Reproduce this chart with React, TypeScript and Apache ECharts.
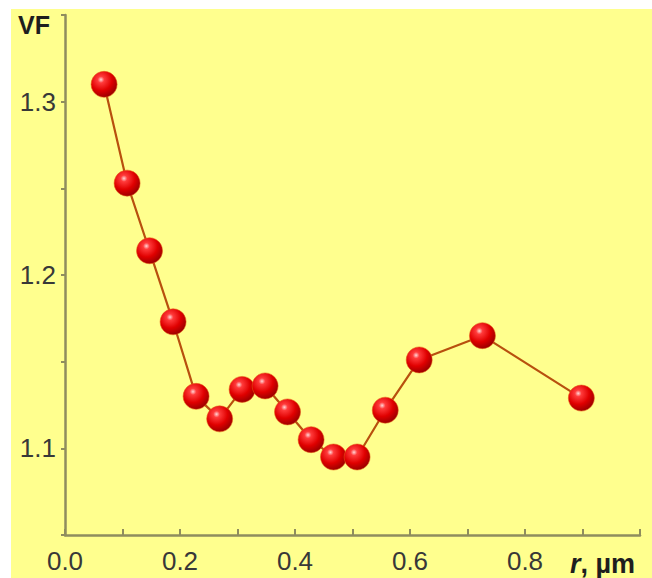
import React, { useEffect, useRef } from "react";
import * as echarts from "echarts";

// Particle radius r (µm) versus VF
const radius = [0.068, 0.108, 0.147, 0.188, 0.228, 0.269, 0.308, 0.348, 0.387, 0.428, 0.467, 0.508, 0.557, 0.616, 0.726, 0.898];
const vf = [1.31, 1.253, 1.214, 1.173, 1.13, 1.117, 1.134, 1.136, 1.121, 1.105, 1.095, 1.095, 1.122, 1.151, 1.165, 1.129];

const xTickLabels = ["0.0", "0.2", "0.4", "0.6", "0.8"];
const yTickLabels = ["1.1", "1.2", "1.3"];

export default function App() {
  const ref = useRef<HTMLDivElement>(null);

  useEffect(() => {
    if (!ref.current) return;
    const chart = echarts.init(ref.current, undefined, { renderer: "svg" });

    const axisColor = "#8f8d5e";
    const textColor = "#383838";
    const font = "'Liberation Sans', Arial, sans-serif";

    const ball = new echarts.graphic.RadialGradient(0.38, 0.32, 0.7, [
      { offset: 0, color: "#ffd6d6" },
      { offset: 0.18, color: "#ff3b3b" },
      { offset: 0.6, color: "#e00000" },
      { offset: 1, color: "#9a0000" },
    ]);

    chart.setOption({
      animation: false,
      backgroundColor: "#ffff8e",
      grid: { left: 54, right: 12, top: 6, bottom: 43 },
      xAxis: {
        type: "value",
        min: 0,
        max: 1,
        interval: 0.1,
        axisLine: { lineStyle: { color: axisColor, width: 2.5 } },
        axisTick: { inside: true, length: 6, lineStyle: { color: axisColor, width: 2 } },
        splitLine: { show: false },
        axisLabel: {
          margin: 13,
          fontSize: 26,
          fontFamily: font,
          color: textColor,
          formatter: (v: number) => {
            const s = v.toFixed(1);
            return xTickLabels.includes(s) ? s : "";
          },
        },
      },
      yAxis: {
        type: "value",
        min: 1.05,
        max: 1.35,
        interval: 0.05,
        axisLine: { show: true, lineStyle: { color: axisColor, width: 2.5 } },
        axisTick: { show: true, length: 4, lineStyle: { color: axisColor, width: 2 } },
        splitLine: { show: false },
        axisLabel: {
          margin: 9,
          fontSize: 26,
          fontFamily: font,
          color: textColor,
          formatter: (v: number) => {
            const s = v.toFixed(2);
            const t = v.toFixed(1);
            return s.endsWith("0") && yTickLabels.includes(t) ? t : "";
          },
        },
      },
      graphic: [
        {
          type: "text",
          left: 7,
          top: 3,
          style: {
            text: "VF",
            font: `bold 25px ${font}`,
            fill: "#1e1e1e",
          },
        },
        {
          type: "text",
          left: 559,
          top: 541,
          style: {
            text: "{i|r}{n|, µm}",
            rich: {
              i: { font: `italic bold 27px ${font}`, fill: "#1e1e1e" },
              n: { font: `bold 27px ${font}`, fill: "#1e1e1e" },
            },
          },
        },
      ],
      series: [
        {
          type: "line",
          data: radius.map((r, i) => [r, vf[i]]),
          symbol: "circle",
          symbolSize: 26,
          lineStyle: { color: "#b8500e", width: 2.2 },
          itemStyle: {
            color: ball,
            borderColor: "rgba(230,90,20,0.55)",
            borderWidth: 1,
          },
        },
      ],
    });

    return () => chart.dispose();
  }, []);

  return (
    <div style={{ position: "fixed", left: 0, top: 0, width: 652, height: 578, background: "#ffffff" }}>
      <div ref={ref} style={{ position: "absolute", left: 11, top: 9, width: 641, height: 569 }} />
    </div>
  );
}
